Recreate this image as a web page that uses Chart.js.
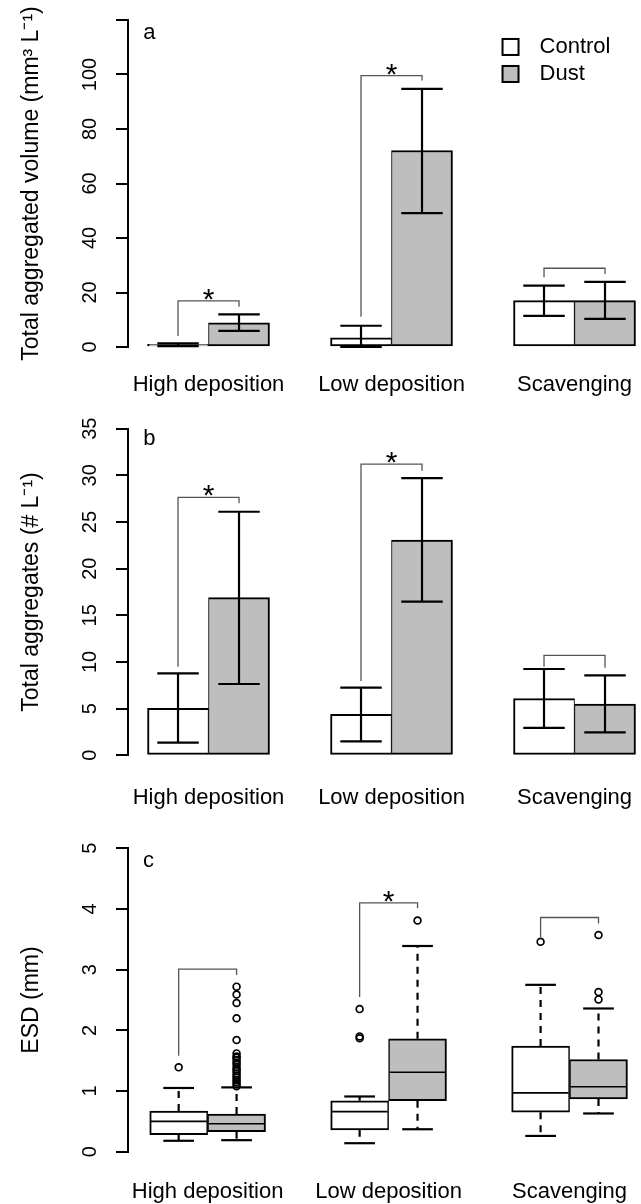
<!DOCTYPE html>
<html>
<head>
<meta charset="utf-8">
<script src="https://cdn.jsdelivr.net/npm/chart.js@4.4.1/dist/chart.umd.min.js"></script>
<style>
html, body { margin:0; padding:0; background:#fff; overflow:hidden; }
#wrap { position:relative; width:641px; height:1204px; }
canvas { position:absolute; left:0; }
</style>
</head>
<body>
<div id="wrap">
  <canvas id="chartA" width="641" height="400" style="top:0px"></canvas>
  <canvas id="chartB" width="641" height="410" style="top:400px"></canvas>
  <canvas id="chartC" width="641" height="394" style="top:810px"></canvas>
</div>
<script>
const categories = ['High deposition', 'Low deposition', 'Scavenging'];
const seriesNames = ['Control', 'Dust'];

// a: total aggregated volume (mm3 L-1), mean and error bar ends
const volControl   = [1.0, 3.4, 17.0];
const volControlLo = [0.3, 0.0, 11.4];
const volControlHi = [1.3, 7.8, 22.5];
const volDust      = [8.9, 72.1, 17.0];
const volDustLo    = [5.9, 49.1, 10.3];
const volDustHi    = [12.0, 94.7, 23.9];
const volTicks     = [0, 20, 40, 60, 80, 100, 120];
const volTickLabels = ['0', '20', '40', '60', '80', '100', ''];
// comparison brackets: top, left leg end, right leg end, significant?
const volBracket   = [16.9, 99.6, 28.9];
const volBracketL  = [4.0, 11.1, 25.6];
const volBracketR  = [14.8, 97.8, 26.8];
const volSignif    = [true, true, false];

// b: total aggregates (# L-1)
const aggControl   = [5.04, 4.39, 6.07];
const aggControlLo = [1.35, 1.5, 2.93];
const aggControlHi = [8.79, 7.25, 9.25];
const aggDust      = [16.9, 23.07, 5.5];
const aggDustLo    = [7.64, 16.46, 2.46];
const aggDustHi    = [26.1, 29.7, 8.57];
const aggTicks     = [0, 5, 10, 15, 20, 25, 30, 35];
const aggTickLabels = ['0', '5', '10', '15', '20', '25', '30', '35'];
const aggBracket   = [27.65, 31.2, 10.7];
const aggBracketL  = [9.5, 7.96, 9.5];
const aggBracketR  = [27.0, 30.5, 9.39];
const aggSignif    = [true, true, false];

// c: ESD (mm) box statistics
const esdControlLow  = [0.18, 0.14, 0.26];
const esdControlQ1   = [0.28, 0.36, 0.65];
const esdControlMed  = [0.50, 0.66, 0.97];
const esdControlQ3   = [0.67, 0.84, 1.74];
const esdControlHigh = [1.05, 0.91, 2.75];
const esdDustLow  = [0.19, 0.37, 0.63];
const esdDustQ1   = [0.33, 0.84, 0.87];
const esdDustMed  = [0.46, 1.31, 1.07];
const esdDustQ3   = [0.62, 1.86, 1.52];
const esdDustHigh = [1.06, 3.39, 2.36];
const esdControlOut = [[1.39], [2.35, 1.90, 1.87], [3.46]];
const esdDustOut = [
  [2.72, 2.59, 2.45, 2.20, 1.84, 1.62, 1.57, 1.55, 1.51, 1.47, 1.44, 1.39, 1.36, 1.33, 1.29, 1.25, 1.22, 1.18, 1.15, 1.11, 1.08],
  [3.81],
  [3.57, 2.63, 2.51]
];
const esdTicks = [0, 1, 2, 3, 4, 5];
const esdTickLabels = ['0', '1', '2', '3', '4', '5'];
const esdBracket  = [3.01, 4.1, 3.86];
const esdBracketL = [1.58, 2.55, 3.54];
const esdBracketR = [2.91, 4.01, 3.76];
const esdSignif   = [false, true, false];

Chart.defaults.font.family = '"Liberation Sans", Arial, sans-serif';
Chart.defaults.color = '#000';

const fills = ['#ffffff', '#bebebe'];
const groupX = i => 2 + 3 * i;

function seg(ctx, x1, y1, x2, y2){ ctx.beginPath(); ctx.moveTo(x1, y1); ctx.lineTo(x2, y2); ctx.stroke(); }

// error bars, box whiskers, brackets, panel letter, legend
const marks = {
  id: 'marks',
  afterDatasetsDraw(chart, args, o){
    const ctx = chart.ctx;
    const px = v => chart.scales.x.getPixelForValue(v);
    const py = v => chart.scales.y.getPixelForValue(v);
    const groups = [chart.getDatasetMeta(0).data, chart.getDatasetMeta(1).data];
    ctx.save();
    ctx.strokeStyle = '#000';
    if (o.errLo){
      ctx.lineWidth = 2.2;
      groups.forEach((els, d) => els.forEach((el, i) => {
        const lo = py(o.errLo[d][i]), hi = py(o.errHi[d][i]), c = el.width * 0.34;
        seg(ctx, el.x, lo, el.x, hi);
        seg(ctx, el.x - c, lo, el.x + c, lo);
        seg(ctx, el.x - c, hi, el.x + c, hi);
      }));
    }
    if (o.whiskLo){
      groups.forEach((els, d) => els.forEach((el, i) => {
        const half = el.width / 2, c = el.width * 0.265;
        const lo = py(o.whiskLo[d][i]), hi = py(o.whiskHi[d][i]);
        const q1 = py(o.q1[d][i]), q3 = py(o.q3[d][i]), med = py(o.med[d][i]);
        ctx.lineWidth = 2.2;
        ctx.setLineDash([7, 6]);
        seg(ctx, el.x, q1, el.x, lo);
        seg(ctx, el.x, q3, el.x, hi);
        ctx.setLineDash([]);
        seg(ctx, el.x - c, lo, el.x + c, lo);
        seg(ctx, el.x - c, hi, el.x + c, hi);
        ctx.lineWidth = 1.6;
        seg(ctx, el.x - half + 1, med, el.x + half - 1, med);
      }));
    }
    ctx.strokeStyle = '#555';
    ctx.lineWidth = 1.3;
    ctx.fillStyle = '#000';
    o.bracket.forEach((b, i) => {
      const xl = groups[0][i].x, xr = groups[1][i].x, y = py(b);
      ctx.beginPath();
      ctx.moveTo(xl, py(o.bracketL[i])); ctx.lineTo(xl, y); ctx.lineTo(xr, y); ctx.lineTo(xr, py(o.bracketR[i]));
      ctx.stroke();
      if (o.signif[i]){
        ctx.font = '30px "Liberation Sans", Arial, sans-serif';
        ctx.textAlign = 'center'; ctx.textBaseline = 'alphabetic';
        ctx.fillText('*', (xl + xr) / 2, y + 8);
      }
    });
    ctx.font = '22px "Liberation Sans", Arial, sans-serif';
    ctx.textAlign = 'left'; ctx.textBaseline = 'alphabetic';
    ctx.fillText(o.letter, px(o.letterAt[0]), py(o.letterAt[1]));
    if (o.legend){
      ctx.strokeStyle = '#000'; ctx.lineWidth = 2;
      ctx.textBaseline = 'middle';
      chart.data.datasets.slice(0, 2).forEach((ds, d) => {
        const x = px(o.legend[0]), y = py(o.legend[1]) + d * 27;
        ctx.fillStyle = ds.backgroundColor;
        ctx.fillRect(x, y - 8, 16, 16);
        ctx.strokeRect(x, y - 8, 16, 16);
        ctx.fillStyle = '#000';
        ctx.fillText(ds.label, x + 37, y);
      });
    }
    ctx.restore();
  }
};

function options(p){
  return {
    responsive: false,
    animation: false,
    layout: { padding: { top: p.top, left: 0, right: 0, bottom: 0 } },
    plugins: { legend: { display: false }, tooltip: { enabled: false }, marks: p.marks },
    scales: {
      x: {
        type: 'linear', min: 0.68, max: 9.09, offset: false,
        grid: { display: false, drawTicks: false },
        border: { display: false },
        afterBuildTicks: ax => { ax.ticks = categories.map((c, i) => ({ value: groupX(i) })); },
        ticks: { autoSkip: false, maxRotation: 0, minRotation: 0, padding: p.xPad, font: { size: 22 }, color: '#000',
                 callback: (v, i) => categories[i] },
        afterFit: ax => { ax.height = p.xHeight; ax.paddingLeft = 0; ax.paddingRight = 0; }
      },
      y: {
        min: 0, max: p.ticks[p.ticks.length - 1],
        afterBuildTicks: ax => { ax.ticks = p.ticks.map(v => ({ value: v })); },
        ticks: { autoSkip: false, minRotation: 90, maxRotation: 90, crossAlign: 'center', padding: p.yPad,
                 font: { size: 20, lineHeight: 1 }, color: '#000', callback: (v, i) => p.tickLabels[i] },
        grid: { drawOnChartArea: false, drawTicks: true, tickLength: 12, tickWidth: 2, tickColor: '#000', color: '#000', lineWidth: 2 },
        border: { display: true, color: '#000', width: 2 },
        title: { display: true, text: p.title, font: { size: 23, lineHeight: 1 }, color: '#000', padding: { top: 20, bottom: 0 } },
        afterFit: ax => { ax.width = 128; ax.paddingTop = 0; ax.paddingBottom = 0; }
      }
    }
  };
}

function barSet(d, values, half){
  return {
    label: seriesNames[d],
    data: values.map((v, i) => ({ x: groupX(i) + (d ? half : -half), y: v })),
    backgroundColor: fills[d],
    borderColor: '#000',
    borderWidth: d ? { top: 2, bottom: 2, left: 1, right: 2 } : { top: 2, bottom: 2, left: 2, right: 1 },
    borderSkipped: false,
    grouped: false,
    categoryPercentage: 1,
    barPercentage: 1
  };
}

new Chart(document.getElementById('chartA'), {
  type: 'bar',
  data: { datasets: [barSet(0, volControl, 0.5), barSet(1, volDust, 0.5)] },
  options: options({
    top: 20, xHeight: 53, xPad: 25, yPad: 9, ticks: volTicks, tickLabels: volTickLabels,
    title: 'Total aggregated volume (mm³ L⁻¹)',
    marks: { errLo: [volControlLo, volDustLo], errHi: [volControlHi, volDustHi],
             bracket: volBracket, bracketL: volBracketL, bracketR: volBracketR, signif: volSignif,
             letter: 'a', letterAt: [0.93, 112.9], legend: [6.82, 110.1] }
  }),
  plugins: [marks]
});

new Chart(document.getElementById('chartB'), {
  type: 'bar',
  data: { datasets: [barSet(0, aggControl, 0.5), barSet(1, aggDust, 0.5)] },
  options: options({
    top: 28.7, xHeight: 54.7, xPad: 29, yPad: 14, ticks: aggTicks, tickLabels: aggTickLabels,
    title: 'Total aggregates (# L⁻¹)',
    marks: { errLo: [aggControlLo, aggDustLo], errHi: [aggControlHi, aggDustHi],
             bracket: aggBracket, bracketL: aggBracketL, bracketR: aggBracketR, signif: aggSignif,
             letter: 'b', letterAt: [0.93, 33.3] }
  }),
  plugins: [marks]
});

function boxSet(d, q1, q3){
  const s = barSet(d, q1, 0.48);
  s.data = q1.map((v, i) => ({ x: groupX(i) + (d ? 0.48 : -0.48), y: [v, q3[i]] }));
  s.borderWidth = d ? { top: 2, bottom: 2, left: 1.5, right: 2 } : { top: 2, bottom: 2, left: 2, right: 1.5 };
  return s;
}
function outlierSet(d, outs){
  const pts = [];
  outs.forEach((list, i) => list.forEach(v => pts.push({ x: groupX(i) + (d ? 0.48 : -0.48), y: v })));
  return { type: 'scatter', label: seriesNames[d] + ' outliers', data: pts,
           pointRadius: 3.4, pointBorderWidth: 1.7, pointBorderColor: '#000', pointBackgroundColor: 'rgba(0,0,0,0)' };
}

new Chart(document.getElementById('chartC'), {
  type: 'bar',
  data: { datasets: [boxSet(0, esdControlQ1, esdControlQ3), boxSet(1, esdDustQ1, esdDustQ3),
                     outlierSet(0, esdControlOut), outlierSet(1, esdDustOut)] },
  options: options({
    top: 38.3, xHeight: 52.3, xPad: 27, yPad: 20, ticks: esdTicks, tickLabels: esdTickLabels,
    title: 'ESD (mm)',
    marks: { whiskLo: [esdControlLow, esdDustLow], whiskHi: [esdControlHigh, esdDustHigh],
             q1: [esdControlQ1, esdDustQ1], q3: [esdControlQ3, esdDustQ3], med: [esdControlMed, esdDustMed],
             bracket: esdBracket, bracketL: esdBracketL, bracketR: esdBracketR, signif: esdSignif,
             letter: 'c', letterAt: [0.93, 4.69] }
  }),
  plugins: [marks]
});
</script>
</body>
</html>
